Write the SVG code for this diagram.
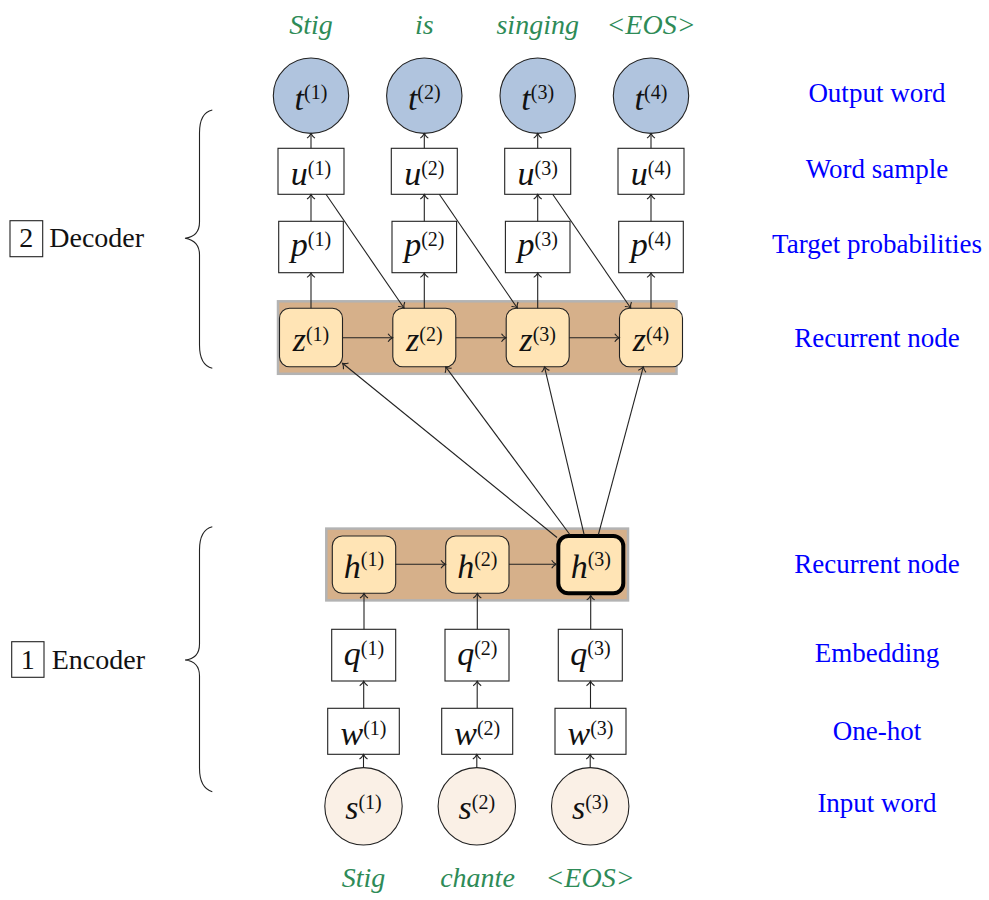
<svg xmlns="http://www.w3.org/2000/svg" width="989" height="900" viewBox="0 0 989 900">
<style>
.bg{fill:#D6B08A;stroke:#B3B3B3;stroke-width:2.5}
.box{fill:#FFFFFF;stroke:#222;stroke-width:1.1}
.rec{fill:#FFE4B5;stroke:#222;stroke-width:1.1}
.out{fill:#B0C4DE;stroke:#222;stroke-width:1.1}
.inp{fill:#FAF0E6;stroke:#222;stroke-width:1.1}
.m{font-family:"Liberation Serif",serif;font-size:34px;font-style:italic;fill:#111;text-anchor:middle}
.sup{font-size:20px;font-style:normal}
.lbl{font-family:"Liberation Serif",serif;font-size:27px;fill:#0000FF;text-anchor:middle}
.word{font-family:"Liberation Serif",serif;font-size:28px;font-style:italic;fill:#2E8B57;text-anchor:middle}
.sec{font-family:"Liberation Serif",serif;font-size:28px;fill:#111}
.brace{fill:none;stroke:#222;stroke-width:1.1}
.c line{stroke:#222;stroke-width:1.1;marker-end:url(#arr)}
</style>
<defs>
<marker id="arr" viewBox="-6 -6 8 12" refX="0" refY="0" markerWidth="8" markerHeight="12" markerUnits="userSpaceOnUse" orient="auto" overflow="visible">
<path d="M-4.5,-4 C-3,-1.5 -1,-0.5 0,0 C-1,0.5 -3,1.5 -4.5,4" fill="none" stroke="#222" stroke-width="1.1"/>
</marker>
</defs>
<rect width="989" height="900" fill="#FFFFFF"/>

<g id="decoder-layer"><rect class="bg" x="278" y="301.3" width="398.5" height="72.5"/></g>
<g id="encoder-layer"><rect class="bg" x="326.3" y="528.6" width="301.7" height="71.8"/></g>

<!-- Decoder nodes -->
<g id="t1"><circle class="out" cx="311" cy="95.7" r="37.7"/><text class="m" x="311" y="109.5">t<tspan class="sup" dy="-11">(1)</tspan></text></g>
<g id="t2"><circle class="out" cx="424.3" cy="95.7" r="37.7"/><text class="m" x="424.3" y="109.5">t<tspan class="sup" dy="-11">(2)</tspan></text></g>
<g id="t3"><circle class="out" cx="537.7" cy="95.7" r="37.7"/><text class="m" x="537.7" y="109.5">t<tspan class="sup" dy="-11">(3)</tspan></text></g>
<g id="t4"><circle class="out" cx="651" cy="95.7" r="37.7"/><text class="m" x="651" y="109.5">t<tspan class="sup" dy="-11">(4)</tspan></text></g>

<g id="u1"><rect class="box" x="278" y="148.3" width="66" height="46"/><text class="m" x="311" y="185">u<tspan class="sup" dy="-10">(1)</tspan></text></g>
<g id="u2"><rect class="box" x="391.3" y="148.3" width="66" height="46"/><text class="m" x="424.3" y="185">u<tspan class="sup" dy="-10">(2)</tspan></text></g>
<g id="u3"><rect class="box" x="504.7" y="148.3" width="66" height="46"/><text class="m" x="537.7" y="185">u<tspan class="sup" dy="-10">(3)</tspan></text></g>
<g id="u4"><rect class="box" x="618" y="148.3" width="66" height="46"/><text class="m" x="651" y="185">u<tspan class="sup" dy="-10">(4)</tspan></text></g>

<g id="p1"><rect class="box" x="278.7" y="221.3" width="64.6" height="51.4"/><text class="m" x="311" y="256">p<tspan class="sup" dy="-10">(1)</tspan></text></g>
<g id="p2"><rect class="box" x="392" y="221.3" width="64.6" height="51.4"/><text class="m" x="424.3" y="256">p<tspan class="sup" dy="-10">(2)</tspan></text></g>
<g id="p3"><rect class="box" x="505.4" y="221.3" width="64.6" height="51.4"/><text class="m" x="537.7" y="256">p<tspan class="sup" dy="-10">(3)</tspan></text></g>
<g id="p4"><rect class="box" x="618.7" y="221.3" width="64.6" height="51.4"/><text class="m" x="651" y="256">p<tspan class="sup" dy="-10">(4)</tspan></text></g>

<g id="z1"><rect class="rec" x="279.5" y="308.3" width="63" height="58.4" rx="10"/><text class="m" x="311" y="350.5">z<tspan class="sup" dy="-10">(1)</tspan></text></g>
<g id="z2"><rect class="rec" x="392.8" y="308.3" width="63" height="58.4" rx="10"/><text class="m" x="424.3" y="350.5">z<tspan class="sup" dy="-10">(2)</tspan></text></g>
<g id="z3"><rect class="rec" x="506.2" y="308.3" width="63" height="58.4" rx="10"/><text class="m" x="537.7" y="350.5">z<tspan class="sup" dy="-10">(3)</tspan></text></g>
<g id="z4"><rect class="rec" x="619.5" y="308.3" width="63" height="58.4" rx="10"/><text class="m" x="651" y="350.5">z<tspan class="sup" dy="-10">(4)</tspan></text></g>

<!-- Encoder nodes -->
<g id="h1"><rect class="rec" x="332.3" y="536" width="63.4" height="57.3" rx="10"/><text class="m" x="364" y="578.3">h<tspan class="sup" dy="-12">(1)</tspan></text></g>
<g id="h2"><rect class="rec" x="445.7" y="536" width="63.3" height="57.3" rx="10"/><text class="m" x="477.3" y="578.3">h<tspan class="sup" dy="-12">(2)</tspan></text></g>
<g id="h3"><rect class="rec" x="558.3" y="536" width="65" height="57.3" rx="10" style="stroke:#000;stroke-width:4"/><text class="m" x="590.8" y="578.3">h<tspan class="sup" dy="-12">(3)</tspan></text></g>

<g id="q1"><rect class="box" x="331.7" y="629.3" width="64" height="51.7"/><text class="m" x="364" y="665">q<tspan class="sup" dy="-10">(1)</tspan></text></g>
<g id="q2"><rect class="box" x="445" y="629.3" width="64" height="51.7"/><text class="m" x="477.3" y="665">q<tspan class="sup" dy="-10">(2)</tspan></text></g>
<g id="q3"><rect class="box" x="558.3" y="629.3" width="64" height="51.7"/><text class="m" x="590.5" y="665">q<tspan class="sup" dy="-10">(3)</tspan></text></g>

<g id="w1"><rect class="box" x="327.7" y="708.3" width="71.6" height="46"/><text class="m" x="363.5" y="745">w<tspan class="sup" dy="-10">(1)</tspan></text></g>
<g id="w2"><rect class="box" x="441.7" y="708.3" width="71" height="46"/><text class="m" x="477.2" y="745">w<tspan class="sup" dy="-10">(2)</tspan></text></g>
<g id="w3"><rect class="box" x="555" y="708.3" width="71" height="46"/><text class="m" x="590.5" y="745">w<tspan class="sup" dy="-10">(3)</tspan></text></g>

<g id="s1"><circle class="inp" cx="363.5" cy="806.3" r="38.7"/><text class="m" x="363.5" y="818.5">s<tspan class="sup" dy="-10">(1)</tspan></text></g>
<g id="s2"><circle class="inp" cx="476.8" cy="806.3" r="38.7"/><text class="m" x="476.8" y="818.5">s<tspan class="sup" dy="-10">(2)</tspan></text></g>
<g id="s3"><circle class="inp" cx="590.2" cy="806.3" r="38.7"/><text class="m" x="590.2" y="818.5">s<tspan class="sup" dy="-10">(3)</tspan></text></g>

<!-- Connectors -->
<g id="connectors" class="c">
<line x1="311" y1="148.3" x2="311" y2="133.6"/>
<line x1="424.3" y1="148.3" x2="424.3" y2="133.6"/>
<line x1="537.7" y1="148.3" x2="537.7" y2="133.6"/>
<line x1="651" y1="148.3" x2="651" y2="133.6"/>
<line x1="311" y1="221.3" x2="311" y2="194.5"/>
<line x1="424.3" y1="221.3" x2="424.3" y2="194.5"/>
<line x1="537.7" y1="221.3" x2="537.7" y2="194.5"/>
<line x1="651" y1="221.3" x2="651" y2="194.5"/>
<line x1="311" y1="308.3" x2="311" y2="272.9"/>
<line x1="424.3" y1="308.3" x2="424.3" y2="272.9"/>
<line x1="537.7" y1="308.3" x2="537.7" y2="272.9"/>
<line x1="651" y1="308.3" x2="651" y2="272.9"/>
<line x1="342.5" y1="337.7" x2="392.6" y2="337.7"/>
<line x1="455.8" y1="337.7" x2="506" y2="337.7"/>
<line x1="569.2" y1="337.7" x2="619.3" y2="337.7"/>
<line x1="326" y1="194.3" x2="404" y2="308"/>
<line x1="439.3" y1="194.3" x2="517.3" y2="308"/>
<line x1="552.7" y1="194.3" x2="630.7" y2="308"/>
<line x1="557" y1="537.5" x2="342.5" y2="363.3"/>
<line x1="569.8" y1="534.5" x2="445.7" y2="366.9"/>
<line x1="584.1" y1="534.5" x2="544.5" y2="366.9"/>
<line x1="598.4" y1="534.5" x2="643.3" y2="366.9"/>
<line x1="395.7" y1="564.3" x2="445.5" y2="564.3"/>
<line x1="509" y1="564.3" x2="556.2" y2="564.3"/>
<line x1="364" y1="629.3" x2="364" y2="593.5"/>
<line x1="477.3" y1="629.3" x2="477.3" y2="593.5"/>
<line x1="590.7" y1="629.3" x2="590.7" y2="595.4"/>
<line x1="363.7" y1="708.3" x2="363.7" y2="681.2"/>
<line x1="477.2" y1="708.3" x2="477.2" y2="681.2"/>
<line x1="590.5" y1="708.3" x2="590.5" y2="681.2"/>
<line x1="363.5" y1="767.6" x2="363.5" y2="754.5"/>
<line x1="476.8" y1="767.6" x2="476.8" y2="754.5"/>
<line x1="590.2" y1="767.6" x2="590.2" y2="754.5"/>
</g>

<!-- Braces and section labels -->
<g id="decoder-brace">
<path class="brace" d="M212.3,110 C203,112 199.5,120 199.5,133 L199.5,222 C199.5,232 195,237 185,238.3 C195,240 199.5,245 199.5,255 L199.5,345 C199.5,358 203,366 212.3,368.3"/>
<rect x="10" y="220.7" width="32.7" height="36" fill="none" stroke="#222" stroke-width="1.1"/>
<text class="sec" x="26.3" y="247.3" text-anchor="middle">2</text>
<text class="sec" x="49.3" y="247.3">Decoder</text>
</g>
<g id="encoder-brace">
<path class="brace" d="M212.3,526.7 C203,529 199.5,537 199.5,550 L199.5,644 C199.5,654 195,659 185,660 C195,661 199.5,666 199.5,676 L199.5,768 C199.5,781 203,789 212.3,791.7"/>
<rect x="11.7" y="641.7" width="32.3" height="35.6" fill="none" stroke="#222" stroke-width="1.1"/>
<text class="sec" x="27.8" y="669" text-anchor="middle">1</text>
<text class="sec" x="51.7" y="669">Encoder</text>
</g>

<!-- Row labels -->
<g id="row-labels">
<text class="lbl" x="877" y="101.7">Output word</text>
<text class="lbl" x="877" y="178.3">Word sample</text>
<text class="lbl" x="877" y="252.7">Target probabilities</text>
<text class="lbl" x="877" y="346.7">Recurrent node</text>
<text class="lbl" x="877" y="573.3">Recurrent node</text>
<text class="lbl" x="877" y="661.7">Embedding</text>
<text class="lbl" x="877" y="740">One-hot</text>
<text class="lbl" x="877" y="811.7">Input word</text>
</g>

<!-- Words -->
<g id="words">
<text class="word" x="311" y="34">Stig</text>
<text class="word" x="424.3" y="34">is</text>
<text class="word" x="537.7" y="34">singing</text>
<text class="word" x="651" y="34">&lt;EOS&gt;</text>
<text class="word" x="363.5" y="886.7">Stig</text>
<text class="word" x="477.5" y="886.7">chante</text>
<text class="word" x="590" y="886.7">&lt;EOS&gt;</text>
</g>
</svg>
